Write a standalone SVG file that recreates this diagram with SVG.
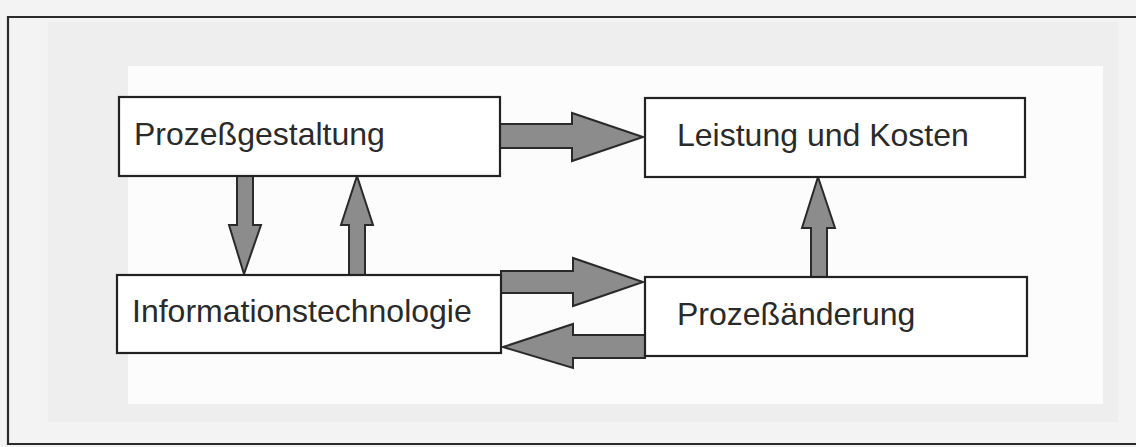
<svg xmlns="http://www.w3.org/2000/svg" width="1136" height="447" viewBox="0 0 1136 447">
  <defs>
    <style>
      .box { fill: #ffffff; stroke: #222222; stroke-width: 2.2; }
      .lbl { font-family: "Liberation Sans", Arial, sans-serif; font-size: 32px; fill: #2a2a2a; }
      .arrow { fill: #8c8c8c; stroke: #2a2a2a; stroke-width: 2; stroke-linejoin: miter; }
      .frame { fill: none; stroke: #2a2a2a; stroke-width: 2.2; }
    </style>
  </defs>

  <!-- scanned page background -->
  <rect x="0" y="0" width="1136" height="447" fill="#f3f3f3"/>
  <rect x="48" y="22" width="1070" height="400" fill="#eeeeee"/>
  <rect x="128" y="66" width="975" height="338" fill="#fcfcfc"/>

  <!-- frame -->
  <path class="frame" d="M1136,17 L8,17 L8,444 L1136,444"/>

  <g id="connectors">
    <!-- Prozessgestaltung -> Leistung und Kosten -->
    <polygon class="arrow" points="500,124 572,124 572,113 643,137 572,161 572,148 500,148"/>
    <!-- Prozessgestaltung -> Informationstechnologie (down) -->
    <polygon class="arrow" points="237,176 253,176 253,225 261,225 244,274 229,225 237,225"/>
    <!-- Informationstechnologie -> Prozessgestaltung (up) -->
    <polygon class="arrow" points="349,275 365,275 365,225 373,225 357,176 341,225 349,225"/>
    <!-- Informationstechnologie -> Prozessaenderung -->
    <polygon class="arrow" points="501,271 573,271 573,258 643,282 573,306 573,293 501,293"/>
    <!-- Prozessaenderung -> Informationstechnologie -->
    <polygon class="arrow" points="645,335 573,335 573,324 503,347 573,368 573,358 645,358"/>
    <!-- Prozessaenderung -> Leistung und Kosten (up) -->
    <polygon class="arrow" points="811,277 827,277 827,228 835,228 818,177 802,228 811,228"/>
  </g>

  <g id="node-prozessgestaltung">
    <rect class="box" x="119" y="97" width="381" height="79"/>
    <text class="lbl" x="134" y="145">Prozeßgestaltung</text>
  </g>

  <g id="node-leistung">
    <rect class="box" x="645" y="98" width="380" height="79"/>
    <text class="lbl" x="677" y="146">Leistung und Kosten</text>
  </g>

  <g id="node-it">
    <rect class="box" x="117" y="275" width="384" height="78"/>
    <text class="lbl" x="132" y="322">Informationstechnologie</text>
  </g>

  <g id="node-prozessaenderung">
    <rect class="box" x="645" y="277" width="382" height="79"/>
    <text class="lbl" x="677" y="325">Prozeßänderung</text>
  </g>
</svg>
